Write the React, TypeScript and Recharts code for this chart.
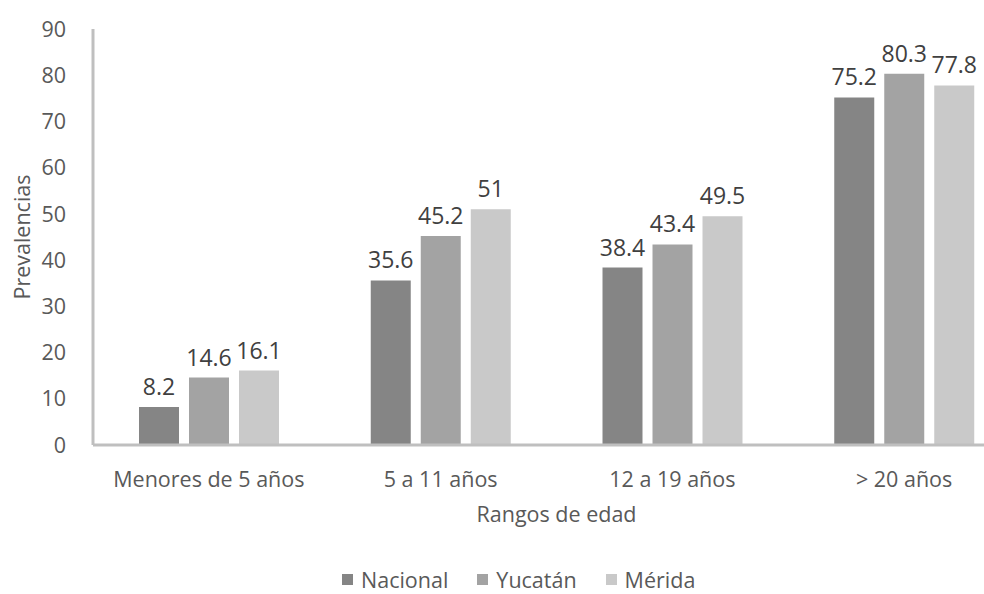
import { BarChart, Bar, XAxis, YAxis, Legend, LabelList } from 'recharts';

const CATEGORIES = ['Menores de 5 años', '5 a 11 años', '12 a 19 años', '> 20 años'];
const NACIONAL = [8.2, 35.6, 38.4, 75.2];
const YUCATAN = [14.6, 45.2, 43.4, 80.3];
const MERIDA = [16.1, 51, 49.5, 77.8];
const Y_TICKS = [0, 10, 20, 30, 40, 50, 60, 70, 80, 90];

const SERIES = [
  { key: 'Nacional', color: '#858585', values: NACIONAL },
  { key: 'Yucatán', color: '#a3a3a3', values: YUCATAN },
  { key: 'Mérida', color: '#c9c9c9', values: MERIDA },
];

const data = CATEGORIES.map((name, i) => {
  const row: any = { name };
  SERIES.forEach((s) => {
    row[s.key] = s.values[i];
  });
  return row;
});

const FONT = '"Open Sans", sans-serif';
const AXIS_COLOR = '#bfbfbf';
const TEXT_COLOR = '#595959';
const AXIS_FONT = 21.5;

const LegendContent = () => (
  <div
    style={{
      display: 'flex',
      gap: 29,
      fontFamily: FONT,
      fontSize: AXIS_FONT,
      color: TEXT_COLOR,
      marginLeft: 342,
      height: 26,
      alignItems: 'center',
    }}
  >
    {SERIES.map((s) => (
      <div key={s.key} style={{ display: 'flex', alignItems: 'center', gap: 8 }}>
        <span style={{ width: 11, height: 11, background: s.color, display: 'inline-block' }} />
        <span>{s.key}</span>
      </div>
    ))}
  </div>
);

export default function App() {
  return (
    <div
      style={{
        position: 'absolute',
        left: 0,
        top: 0,
        width: 984,
        height: 594,
        overflow: 'hidden',
        background: '#fff',
      }}
    >
      <BarChart
        width={1020}
        height={594}
        data={data}
        margin={{ top: 29, right: 0, left: 0, bottom: 2 }}
        barCategoryGap="19.8%"
        barGap={10}
      >
        <XAxis
          dataKey="name"
          height={121}
          tickLine={false}
          tickSize={0}
          tickMargin={27}
          axisLine={{ stroke: AXIS_COLOR, strokeWidth: 3 }}
          tick={{ fill: TEXT_COLOR, fontSize: AXIS_FONT, fontFamily: FONT }}
          label={{
            value: 'Rangos de edad',
            position: 'insideBottom',
            offset: 44,
            style: { fill: TEXT_COLOR, fontSize: AXIS_FONT, fontFamily: FONT },
          }}
        />
        <YAxis
          width={93}
          domain={[0, 90]}
          ticks={Y_TICKS}
          interval={0}
          tickLine={false}
          tickSize={0}
          tickMargin={27}
          axisLine={{ stroke: AXIS_COLOR, strokeWidth: 3 }}
          tick={{ fill: TEXT_COLOR, fontSize: AXIS_FONT, fontFamily: FONT }}
          label={{
            value: 'Prevalencias',
            angle: -90,
            position: 'insideLeft',
            offset: 22,
            style: { fill: TEXT_COLOR, fontSize: AXIS_FONT, fontFamily: FONT, textAnchor: 'middle' },
          }}
        />
        <Legend verticalAlign="bottom" align="left" content={<LegendContent />} />
        {SERIES.map((s) => (
          <Bar key={s.key} dataKey={s.key} fill={s.color} barSize={40} isAnimationActive={false}>
            <LabelList
              dataKey={s.key}
              position="top"
              offset={12}
              style={{ fill: '#404040', fontSize: 23, fontFamily: FONT }}
            />
          </Bar>
        ))}
      </BarChart>
    </div>
  );
}
